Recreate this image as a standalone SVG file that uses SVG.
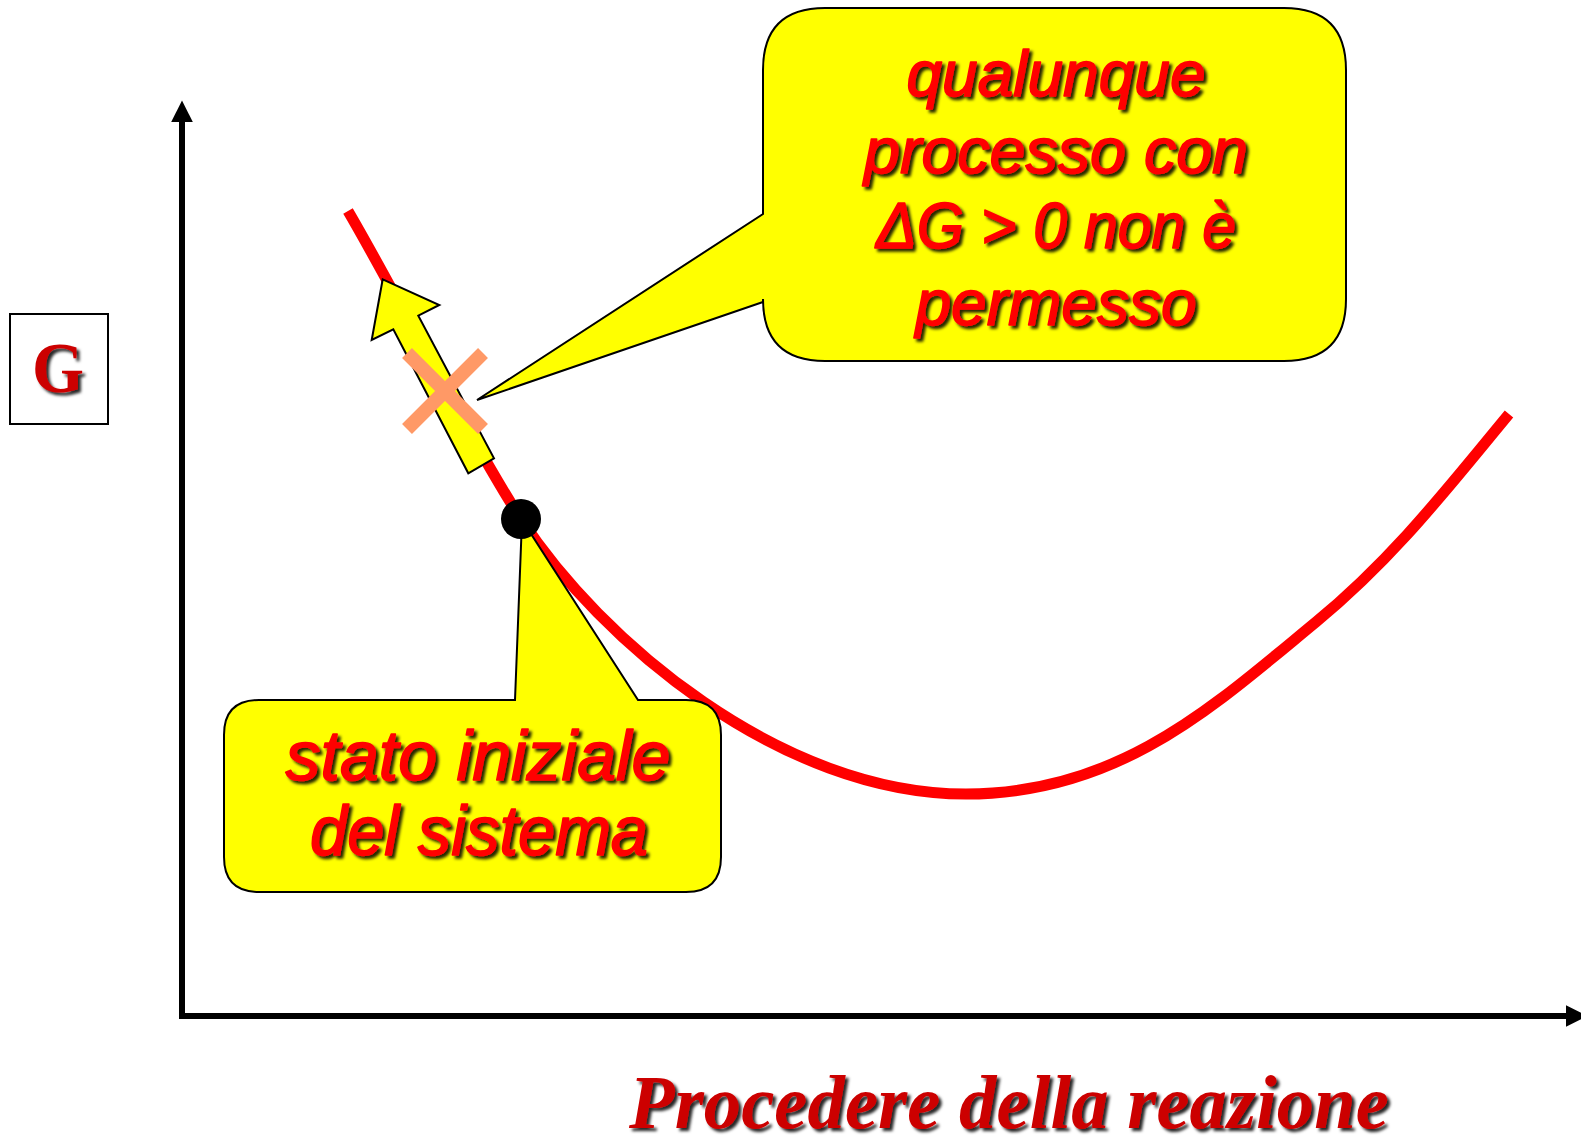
<svg xmlns="http://www.w3.org/2000/svg" width="1581" height="1144" viewBox="0 0 1581 1144">
<defs>
<filter id="sh" x="-10%" y="-20%" width="130%" height="150%">
<feDropShadow dx="3" dy="3" stdDeviation="1.6" flood-color="#000" flood-opacity="0.85"/>
</filter>
<marker id="ah" viewBox="0 0 10 10" refX="0" refY="5" markerWidth="3.6" markerHeight="3.8" orient="auto" markerUnits="strokeWidth">
<path d="M0,0 L10,5 L0,10 Z" fill="#000"/>
</marker>
</defs>
<style>
.callout{fill:#FFFF00;stroke:#000;stroke-width:2;stroke-linejoin:miter}
.ct{font-family:"Liberation Sans","Noto Sans",sans-serif;font-style:italic;fill:#FF0000;stroke:#FF0000;stroke-width:1.6;stroke-linejoin:round;text-anchor:middle;filter:url(#sh)}
.serif{font-family:"Liberation Serif","DejaVu Serif",serif;font-weight:bold;fill:#CC0000;filter:url(#sh)}
</style>
<rect width="1581" height="1144" fill="#fff"/>
<g id="connectors">
<line x1="182" y1="1016" x2="182" y2="122" stroke="#000" stroke-width="6" marker-end="url(#ah)"/>
<line x1="179" y1="1016" x2="1566" y2="1016" stroke="#000" stroke-width="6" marker-end="url(#ah)"/>
</g>
<g id="axis-label-G">
<rect x="10" y="314" width="98" height="110" fill="#fff" stroke="#000" stroke-width="2"/>
<text class="serif" x="58" y="392" font-size="72" text-anchor="middle" textLength="52" lengthAdjust="spacingAndGlyphs">G</text>
</g>
<g id="axis-label-x">
<text class="serif" x="629" y="1128" font-size="76" font-style="italic" textLength="760" lengthAdjust="spacingAndGlyphs">Procedere della reazione</text>
</g>
<g id="curve">
<path d="M348,211 C400,300 470,440 521,519 C600,640 780,794 966,794 C1120,794 1215,705 1316,622 C1395,557 1450,485 1509,414" fill="none" stroke="#FF0000" stroke-width="11"/>
</g>
<g id="arrow">
<polygon points="382.7,279.3 439.3,305 418.3,315.7 494,458.3 468.3,473.3 393.3,329.3 371.7,340" fill="#FFFF00" stroke="#000" stroke-width="2" stroke-linejoin="miter"/>
</g>
<g id="cross">
<line x1="407" y1="353" x2="483" y2="429" stroke="#FF9966" stroke-width="14"/>
<line x1="483" y1="353" x2="407" y2="429" stroke="#FF9966" stroke-width="14"/>
</g>
<g id="callout-top">
<path class="callout" d="M825,8 L1284,8 Q1346,8 1346,70 L1346,299 Q1346,361 1284,361 L825,361 Q763,361 763,299 L763,302 L477,400 L763,214 L763,70 Q763,8 825,8 Z"/>
<text class="ct" font-size="64" x="1056" y="96">qualunque</text>
<text class="ct" font-size="64" x="1056" y="173" textLength="384" lengthAdjust="spacingAndGlyphs">processo con</text>
<text class="ct" font-size="64" x="1056" y="248" textLength="360" lengthAdjust="spacingAndGlyphs">ΔG &gt; 0 non è</text>
<text class="ct" font-size="64" x="1056" y="325">permesso</text>
</g>
<g id="callout-bottom">
<path class="callout" d="M259,700 L515,700 L522,520 L638,700 L686,700 Q721,700 721,735 L721,857 Q721,892 686,892 L259,892 Q224,892 224,857 L224,735 Q224,700 259,700 Z"/>
<text class="ct" font-size="70" x="478" y="780" textLength="385" lengthAdjust="spacingAndGlyphs">stato iniziale</text>
<text class="ct" font-size="70" x="479" y="855" textLength="338" lengthAdjust="spacingAndGlyphs">del sistema</text>
</g>
<g id="initial-state-dot">
<circle cx="521" cy="519" r="20" fill="#000"/>
</g>
</svg>
